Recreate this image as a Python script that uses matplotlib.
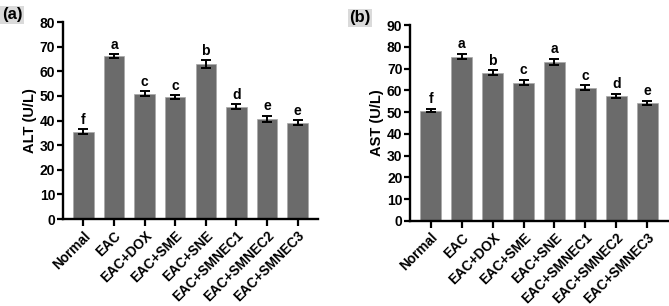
import matplotlib
matplotlib.use("Agg")
import matplotlib.pyplot as plt
import numpy as np

plt.rcParams['font.family'] = ['Liberation Sans', 'DejaVu Sans']
plt.rcParams['font.weight'] = 'bold'

groups = ['Normal', 'EAC', 'EAC+DOX', 'EAC+SME', 'EAC+SNE',
          'EAC+SMNEC1', 'EAC+SMNEC2', 'EAC+SMNEC3']

# ALT panel
alt_mean = [35.4, 66.2, 50.9, 49.6, 62.8, 45.6, 40.7, 39.2]
alt_err = [1.0, 0.8, 1.0, 0.7, 1.6, 1.1, 1.2, 0.9]
alt_letters = ['f', 'a', 'c', 'c', 'b', 'd', 'e', 'e']

# AST panel
ast_mean = [50.7, 75.5, 68.2, 63.6, 73.1, 61.3, 57.4, 54.4]
ast_err = [0.6, 1.1, 1.0, 1.1, 1.5, 1.0, 1.0, 0.9]
ast_letters = ['f', 'a', 'b', 'c', 'a', 'c', 'd', 'e']

bar_color = '#6b6b6b'

fig = plt.figure(figsize=(6.69, 3.06), dpi=100)
ax1 = fig.add_axes([0.094, 0.284, 0.381, 0.644])
ax2 = fig.add_axes([0.613, 0.278, 0.385, 0.640])


def draw_panel(ax, means, errs, letters, ymax, ylabel, off):
    x = np.arange(len(groups))
    ax.bar(x, means, width=0.67, color=bar_color, edgecolor='#a8a8a8', linewidth=0.5, zorder=2)
    ax.errorbar(x, means, yerr=errs, fmt='none', ecolor='black', elinewidth=1.4,
                capsize=3.6, capthick=1.4, zorder=3)
    for xi, m, e, lt in zip(x, means, errs, letters):
        ax.text(xi, m + e + off, lt, ha='center', va='bottom', fontsize=10, fontweight='bold')
    ax.set_xlim(-0.67, 7.66)
    ax.set_ylim(0, ymax)
    ax.set_yticks(np.arange(0, ymax + 1, 10))
    ax.set_xticks(x)
    ax.set_xticklabels(groups, rotation=45, ha='right', rotation_mode='anchor',
                       fontsize=9.8, fontweight='bold')
    ax.set_ylabel(ylabel, fontsize=10.5, fontweight='bold', labelpad=2)
    for s in ['top', 'right']:
        ax.spines[s].set_visible(False)
    for s in ['left', 'bottom']:
        ax.spines[s].set_linewidth(1.7)
    ax.tick_params(axis='y', direction='out', length=4, width=1.6, labelsize=10, pad=1.5)
    ax.tick_params(axis='x', direction='out', length=5, width=1.6, pad=2)
    for lab in ax.get_yticklabels():
        lab.set_fontweight('bold')


draw_panel(ax1, alt_mean, alt_err, alt_letters, 80, 'ALT (U/L)', 1.0)
draw_panel(ax2, ast_mean, ast_err, ast_letters, 90, 'AST (U/L)', 1.3)

fig.text(0.003, 0.952, '(a)', fontsize=12, fontweight='bold', va='center', ha='left',
         bbox=dict(facecolor='#dadada', edgecolor='none', pad=1.2))
fig.text(0.522, 0.942, '(b)', fontsize=12, fontweight='bold', va='center', ha='left',
         bbox=dict(facecolor='#dadada', edgecolor='none', pad=1.2))

fig.savefig('out.png', dpi=100)
